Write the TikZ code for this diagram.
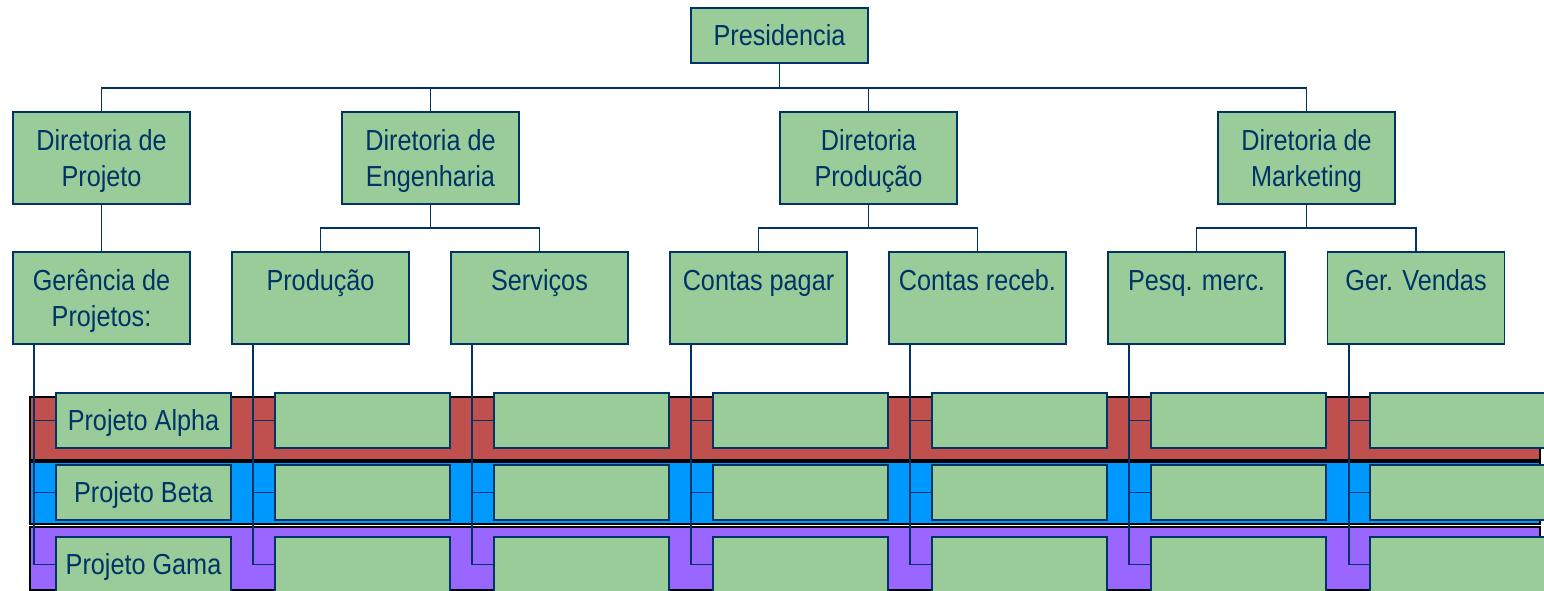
\documentclass[tikz,border=0pt]{standalone}
\usepackage{fontspec}
\setmainfont{Liberation Sans}[FakeStretch=0.87]
\usetikzlibrary{calc}
\definecolor{navy}{RGB}{0,51,102}
\definecolor{boxgreen}{RGB}{153,204,153}
\definecolor{bandred}{RGB}{192,80,77}
\definecolor{bandblue}{RGB}{0,153,255}
\definecolor{bandpurple}{RGB}{153,102,255}
\newcommand\lstrut{\rule[-8pt]{0pt}{36pt}}
\begin{document}
\begin{tikzpicture}[x=1pt,y=-1pt,
  orgbox/.style={draw=navy,fill=boxgreen,line width=1.8pt,rectangle,inner sep=0pt,
    minimum width=177pt,text=navy,align=center,
    font=\fontsize{29}{36}\selectfont},
  bigbox/.style={orgbox,minimum height=92pt},
  smallbox/.style={orgbox,minimum width=175pt,minimum height=55pt},
  link/.style={draw=navy,line width=1.8pt},
  band/.style={draw=black,line width=2.4pt}]
\clip (0,0) rectangle (1544,590);
% bands
\path[band,fill=bandred] (30,397) rectangle (1540,460);
\path[band,fill=bandblue] (30,462) rectangle (1540,524);
\path[band,fill=bandpurple] (30,527) rectangle (1540,590);
% top
\node[orgbox,minimum height=55pt] (pres) at (779.5,35.5) {\lstrut Presidencia};
\node[bigbox] (dproj) at (101.5,158) {\lstrut Diretoria de\\\lstrut Projeto};
\node[bigbox] (deng) at (430.5,158) {\lstrut Diretoria de\\\lstrut Engenharia};
\node[bigbox] (dprod) at (868.5,158) {\lstrut Diretoria\\\lstrut Produção};
\node[bigbox] (dmkt) at (1306.5,158) {\lstrut Diretoria de\\\lstrut Marketing};
\coordinate (busP) at (779.5,88);
\draw[link] (pres.south) -- (busP);
\draw[link] (dproj.north) |- (busP);
\draw[link] (deng.north) |- (busP);
\draw[link] (dprod.north) |- (busP);
\draw[link] (dmkt.north) |- (busP);
% level 2
\node[bigbox] (c0) at (101.5,298) {\lstrut Gerência de\\\lstrut Projetos:};
\node[bigbox] (c1) at (320.5,298) {\lstrut Produção\\\lstrut};
\node[bigbox] (c2) at (539.5,298) {\lstrut Serviços\\\lstrut};
\node[bigbox] (c3) at (758.5,298) {\lstrut Contas pagar\\\lstrut};
\node[bigbox] (c4) at (977.5,298) {\lstrut Contas receb.\\\lstrut};
\node[bigbox] (c5) at (1196.5,298) {\lstrut Pesq. merc.\\\lstrut};
\node[bigbox] (c6) at (1416,298) {\lstrut Ger. Vendas\\\lstrut};
\draw[link] (dproj.south) -- (c0.north);
\coordinate (busE) at (430.5,228);
\coordinate (busD) at (868.5,228);
\coordinate (busM) at (1306.5,228);
\draw[link] (deng.south) -- (busE);
\draw[link] (c1.north) |- (busE);
\draw[link] (c2.north) |- (busE);
\draw[link] (dprod.south) -- (busD);
\draw[link] (c3.north) |- (busD);
\draw[link] (c4.north) |- (busD);
\draw[link] (dmkt.south) -- (busM);
\draw[link] (c5.north) |- (busM);
\draw[link] (c6.north) |- (busM);
% project boxes
\foreach \i in {0,...,6}{
  \pgfmathsetmacro{\cx}{143.5+219*\i}
  \node[smallbox] (a\i) at (\cx,420.5) {\ifnum\i=0 \lstrut Projeto Alpha\fi};
  \node[smallbox] (b\i) at (\cx,492.5) {\ifnum\i=0 \lstrut Projeto Beta\fi};
  \node[smallbox] (g\i) at (\cx,564.5) {\ifnum\i=0 \lstrut Projeto Gama\fi};
  \coordinate (v\i) at ($(c\i.south west)+(22,0)$);
  \draw[link] (v\i) |- (g\i.west);
  \draw[link] (v\i |- a\i.west) -- (a\i.west);
  \draw[link] (v\i |- b\i.west) -- (b\i.west);
}
\end{tikzpicture}
\end{document}
